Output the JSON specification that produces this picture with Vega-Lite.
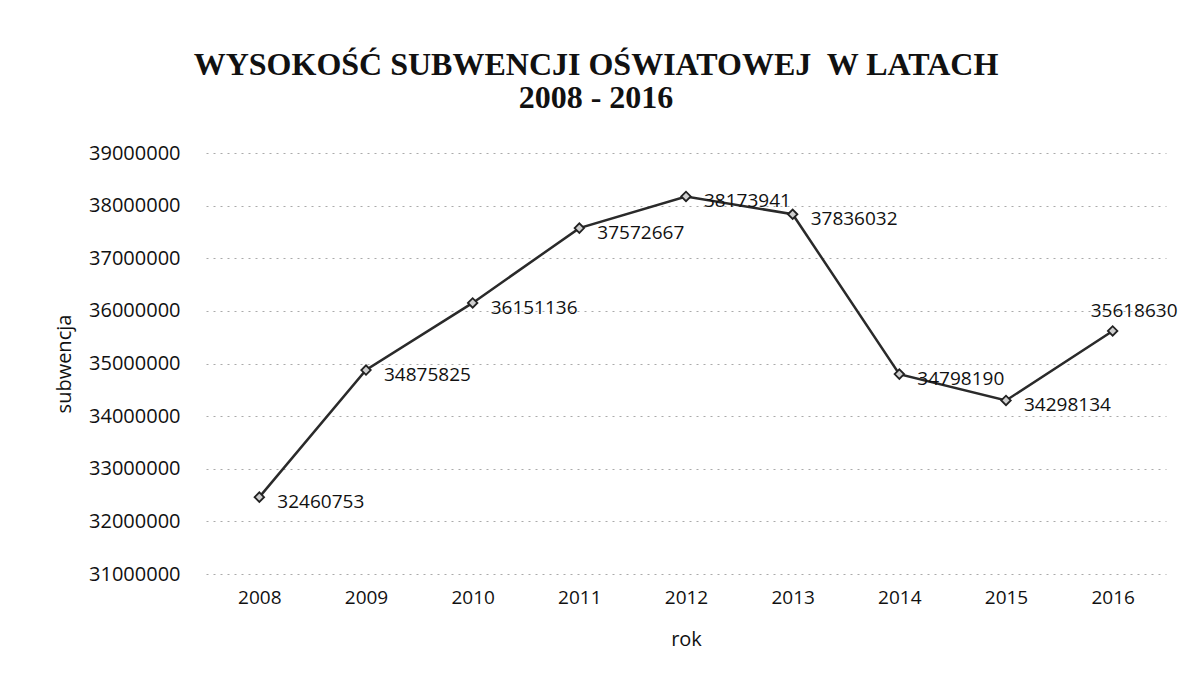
{
  "$schema": "https://vega.github.io/schema/vega-lite/v6.json",
  "width": 960,
  "height": 421,
  "autosize": {"type": "none"},
  "padding": {"left": 206, "top": 153, "right": 15, "bottom": 106},
  "background": "white",
  "title": {
    "text": ["WYSOKOŚĆ SUBWENCJI OŚWIATOWEJ\u00a0 W LATACH", "2008 - 2016"],
    "font": "Liberation Serif",
    "fontWeight": "bold",
    "fontSize": 32,
    "lineHeight": 33,
    "color": "#111",
    "anchor": "middle",
    "dx": -90,
    "offset": 28
  },
  "data": {
    "values": [
      {"rok": "2008", "subwencja": 32460753},
      {"rok": "2009", "subwencja": 34875825},
      {"rok": "2010", "subwencja": 36151136},
      {"rok": "2011", "subwencja": 37572667},
      {"rok": "2012", "subwencja": 38173941},
      {"rok": "2013", "subwencja": 37836032},
      {"rok": "2014", "subwencja": 34798190},
      {"rok": "2015", "subwencja": 34298134},
      {"rok": "2016", "subwencja": 35618630}
    ]
  },
  "encoding": {
    "x": {
      "field": "rok",
      "type": "ordinal",
      "scale": {"type": "point", "padding": 0.5},
      "axis": {
        "title": "rok",
        "titleFont": "Open Sans",
        "titleFontSize": 20,
        "titleFontWeight": "normal",
        "titleColor": "#111",
        "titlePadding": 22,
        "labelFont": "Open Sans",
        "labelFontSize": 19,
        "labelColor": "#111",
        "labelAngle": 0,
        "labelPadding": 14,
        "domain": false,
        "ticks": false,
        "grid": false
      }
    },
    "y": {
      "field": "subwencja",
      "type": "quantitative",
      "scale": {"domain": [31000000, 39000000], "zero": false, "nice": false},
      "axis": {
        "title": "subwencja",
        "titleFont": "Open Sans",
        "titleFontSize": 20,
        "titleFontWeight": "normal",
        "titleColor": "#111",
        "titlePadding": 14,
        "labelFont": "Open Sans",
        "labelFontSize": 20,
        "labelColor": "#111",
        "labelPadding": 26,
        "labelOverlap": false,
        "values": [31000000, 32000000, 33000000, 34000000, 35000000, 36000000, 37000000, 38000000, 39000000],
        "format": "d",
        "domain": false,
        "ticks": false,
        "grid": true,
        "gridColor": "#aaaaaa",
        "gridDash": [2, 5],
        "gridWidth": 1
      }
    }
  },
  "layer": [
    {
      "mark": {"type": "line", "color": "#2a2a2a", "strokeWidth": 2.5}
    },
    {
      "mark": {"type": "point", "shape": "diamond", "size": 90, "filled": true, "fill": "#cfcfcf", "stroke": "#222", "strokeWidth": 1.8, "opacity": 1}
    },
    {
      "transform": [{"filter": "datum.rok != '2016'"}],
      "mark": {"type": "text", "align": "left", "baseline": "middle", "dx": 18, "dy": 5, "font": "Open Sans", "fontSize": 19, "color": "#111"},
      "encoding": {"text": {"field": "subwencja", "type": "quantitative", "format": "d"}}
    },
    {
      "transform": [{"filter": "datum.rok == '2016'"}],
      "mark": {"type": "text", "align": "left", "baseline": "middle", "dx": -22, "dy": -20, "font": "Open Sans", "fontSize": 19, "color": "#111"},
      "encoding": {"text": {"field": "subwencja", "type": "quantitative", "format": "d"}}
    }
  ],
  "config": {"view": {"stroke": null}}
}
